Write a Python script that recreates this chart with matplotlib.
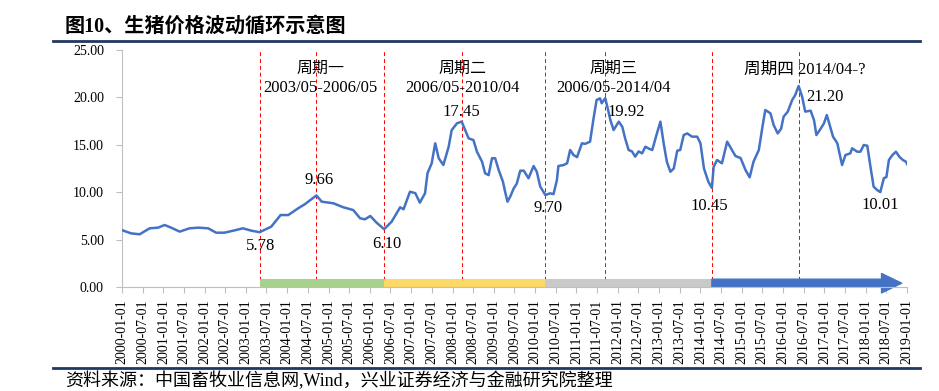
import matplotlib
matplotlib.use('Agg')
import matplotlib.pyplot as plt
from matplotlib.lines import Line2D
import pandas as pd

plt.rcParams['font.family'] = ['Liberation Serif', 'Noto Sans CJK SC', 'DejaVu Sans']

# 生猪价格（元/公斤），读图所得
dates = [
    '2000-01-01', '2000-03-20', '2000-06-05', '2000-09-01', '2000-11-15',
    '2001-01-12', '2001-03-10', '2001-05-25', '2001-08-20', '2001-11-05',
    '2002-02-01', '2002-04-12', '2002-06-25', '2002-09-10', '2002-12-05',
    '2003-02-18', '2003-05-01', '2003-08-12', '2003-11-03', '2004-01-10',
    '2004-04-06', '2004-06-03', '2004-09-15', '2004-11-01', '2005-02-12',
    '2005-05-10', '2005-08-06', '2005-10-06', '2005-11-18', '2006-01-04',
    '2006-03-01', '2006-05-06', '2006-07-12', '2006-09-25', '2006-10-25',
    '2006-12-21', '2007-02-06', '2007-03-18', '2007-05-03', '2007-05-25',
    '2007-07-01', '2007-08-01', '2007-09-01', '2007-10-12', '2007-11-28',
    '2007-12-25', '2008-02-10', '2008-03-22', '2008-04-22', '2008-05-22',
    '2008-07-04', '2008-08-04', '2008-09-18', '2008-10-15', '2008-11-15',
    '2008-12-15', '2009-01-12', '2009-02-12', '2009-03-22', '2009-04-10',
    '2009-05-01', '2009-05-25', '2009-06-25', '2009-07-22', '2009-08-22',
    '2009-09-22', '2009-11-03', '2009-12-18', '2010-01-15', '2010-02-15',
    '2010-04-01', '2010-05-12', '2010-06-12', '2010-07-12', '2010-07-25',
    '2010-09-10', '2010-10-10', '2010-11-06', '2010-12-06', '2011-01-06',
    '2011-02-18', '2011-03-18', '2011-05-01', '2011-06-01', '2011-06-28',
    '2011-07-28', '2011-08-12', '2011-09-12', '2011-10-01', '2011-10-28',
    '2011-11-25', '2012-01-10', '2012-02-10', '2012-03-06', '2012-04-06',
    '2012-05-06', '2012-06-03', '2012-07-03', '2012-08-03', '2012-09-01',
    '2012-10-01', '2012-11-01', '2012-12-12', '2013-01-12', '2013-02-12',
    '2013-03-10', '2013-04-10', '2013-05-10', '2013-06-10', '2013-07-06',
    '2013-08-06', '2013-09-06', '2013-10-18', '2013-12-03', '2014-01-01',
    '2014-02-01', '2014-03-12', '2014-04-12', '2014-04-28', '2014-05-28',
    '2014-07-10', '2014-08-25', '2014-10-06', '2014-11-06', '2014-12-22',
    '2015-02-03', '2015-03-12', '2015-04-15', '2015-06-01', '2015-07-01',
    '2015-07-28', '2015-09-12', '2015-10-10', '2015-11-15', '2015-12-15',
    '2016-01-06', '2016-02-12', '2016-03-22', '2016-04-18', '2016-05-18',
    '2016-06-18', '2016-07-15', '2016-09-01', '2016-10-01', '2016-10-22',
    '2016-12-01', '2016-12-28', '2017-01-22', '2017-02-12', '2017-03-18',
    '2017-04-25', '2017-06-06', '2017-07-06', '2017-08-18', '2017-09-03',
    '2017-10-18', '2017-11-15', '2017-12-15', '2018-01-15', '2018-02-12',
    '2018-03-12', '2018-04-12', '2018-05-10', '2018-06-10', '2018-07-03',
    '2018-07-25', '2018-08-25', '2018-09-25', '2018-10-25', '2018-11-25',
    '2018-12-25', '2019-01-01',
]
prices = [
    6.00, 5.66, 5.56, 6.19, 6.26,
    6.54, 6.26, 5.84, 6.19, 6.26,
    6.19, 5.73, 5.73, 5.94, 6.19,
    5.94, 5.78, 6.36, 7.59, 7.59,
    8.30, 8.72, 9.66, 9.00, 8.83,
    8.41, 8.12, 7.25, 7.14, 7.49,
    6.78, 6.10, 6.89, 8.41, 8.20,
    10.05, 9.90, 8.90, 9.88, 12.00,
    13.05, 15.16, 13.58, 12.87, 14.80,
    16.56, 17.27, 17.45, 16.56, 15.68,
    15.50, 14.27, 13.22, 12.00, 11.80,
    13.58, 13.58, 12.34, 11.10, 10.05,
    9.00, 9.53, 10.40, 10.90, 12.27,
    12.27, 11.47, 12.76, 12.16, 10.58,
    9.70, 9.88, 9.80, 11.29, 12.76,
    12.87, 13.05, 14.45, 13.92, 13.70,
    15.16, 15.10, 15.33, 17.80, 19.73,
    19.90, 19.38, 19.92, 19.00, 17.60,
    16.56, 17.44, 16.90, 15.68, 14.45,
    14.30, 13.75, 14.30, 14.10, 14.80,
    14.60, 14.45, 16.20, 17.44, 14.98,
    13.22, 12.16, 12.50, 14.38, 14.45,
    16.03, 16.20, 15.86, 15.86, 15.16,
    12.50, 11.10, 10.45, 12.69, 13.40,
    13.05, 15.33, 14.45, 13.82, 13.60,
    12.34, 11.57, 13.22, 14.45, 16.74,
    18.67, 18.32, 17.09, 16.20, 16.70,
    17.96, 18.50, 19.73, 20.25, 21.20,
    20.07, 18.50, 18.60, 17.60, 16.03,
    16.74, 17.27, 18.14, 17.27, 15.86,
    15.16, 12.87, 13.92, 14.10, 14.63,
    14.27, 14.27, 14.98, 14.90, 12.69,
    10.58, 10.23, 10.01, 11.47, 11.60,
    13.40, 13.92, 14.27, 13.75, 13.40,
    13.20, 12.97,
]

# 拐点（高点 / 低点）
turn_dates = ['2003-05-01', '2004-09-15', '2006-05-06', '2008-03-22', '2010-04-01',
              '2011-09-12', '2014-04-12', '2016-05-18', '2018-05-10']
turn_values = [5.78, 9.66, 6.10, 17.45, 9.70, 19.92, 10.45, 21.20, 10.01]
turn_offsets = [(1, -10), (2, 11), (2, -11), (0, 7), (2, -9), (15, -10), (-2, -13), (19, -8), (0, -9)]

# 周期
cycle_names = ['周期一', '周期二', '周期三']
cycle_ranges = ['2003/05-2006/05', '2006/05-2010/04', '2006/05-2014/04']
cycle_centers = ['2004-10-20', '2008-03-25', '2011-11-25']
cycle_bounds = ['2003-05-01', '2006-05-06', '2010-04-01', '2014-04-12']
cycle_colors = ['#A9D18E', '#FFD966', '#C9C9C9']
cycle4_label = '周期四 2014/04-?'
cycle4_center = '2016-07-10'
arrow_end = '2018-11-15'

x = pd.to_datetime(dates)
tx = pd.to_datetime(turn_dates)

fig = plt.figure(figsize=(9.39, 3.91), dpi=100)
ax = fig.add_axes([122 / 939, 1 - 287 / 391, (907 - 122) / 939, (287 - 50) / 391])

# 红色虚线
for d in tx[:-1]:
    ax.axvline(d, ymin=0, ymax=1, color='red', lw=0.7, ls=(0, (4, 3)), zorder=1)

ax.plot(x, prices, color='#4472C4', lw=1.8, zorder=3)

# 周期色条
bounds = pd.to_datetime(cycle_bounds)
for i, c in enumerate(cycle_colors):
    ax.fill_between([bounds[i], bounds[i + 1]], 0, 0.85, color=c, lw=0, zorder=2)
ax.annotate('', xy=(pd.Timestamp(arrow_end), 0.4), xytext=(bounds[-1], 0.4),
            arrowprops=dict(arrowstyle='simple,tail_width=0.58,head_width=1.4,head_length=1.45',
                            color='#4472C4', shrinkA=0, shrinkB=0, mutation_scale=10),
            annotation_clip=False, zorder=2)

# 拐点标注
for d, v, off in zip(tx, turn_values, turn_offsets):
    ax.annotate(f'{v:.2f}', xy=(d, v), xytext=off, textcoords='offset points',
                ha='center', va='center', fontsize=12, zorder=4)

for n, r, c in zip(cycle_names, cycle_ranges, cycle_centers):
    ax.text(pd.Timestamp(c), 23.0, n, ha='center', va='center', fontsize=11.5)
    ax.text(pd.Timestamp(c), 21.0, r, ha='center', va='center', fontsize=12)
ax.text(pd.Timestamp(cycle4_center), 22.9, cycle4_label, ha='center', va='center', fontsize=12)

# 坐标轴
ax.set_xlim(pd.Timestamp('2000-01-01'), pd.Timestamp('2019-01-01'))
ax.set_ylim(0, 25)
ticks = pd.date_range('2000-01-01', '2019-01-01', freq='6MS')
ax.set_xticks(ticks)
ax.set_xticklabels([t.strftime('%Y-%m-%d') for t in ticks], rotation=90, fontsize=10)
ax.set_yticks([0, 5, 10, 15, 20, 25])
ax.set_yticklabels([f'{v:.2f}' for v in [0, 5, 10, 15, 20, 25]], fontsize=10)
for s in ['top', 'right']:
    ax.spines[s].set_visible(False)
for s in ['left', 'bottom']:
    ax.spines[s].set_color('#BFBFBF')
ax.tick_params(axis='both', color='#BFBFBF', length=4)
ax.tick_params(axis='x', pad=5)
ax.tick_params(axis='y', pad=9)

# 标题与来源
fig.text(65 / 939, 1 - 27 / 391, '图10、生猪价格波动循环示意图', ha='left', va='center',
         fontsize=14.5, fontweight='bold')
fig.add_artist(Line2D([53 / 939, 920 / 939], [1 - 41 / 391] * 2, color='#1F3864', lw=2))
fig.add_artist(Line2D([53 / 939, 920 / 939], [1 - 368 / 391] * 2, color='#1F3864', lw=2))
fig.text(65 / 939, 1 - 381 / 391, '资料来源：中国畜牧业信息网,Wind，兴业证券经济与金融研究院整理',
         ha='left', va='center', fontsize=13)

fig.savefig('out.png', dpi=100)
